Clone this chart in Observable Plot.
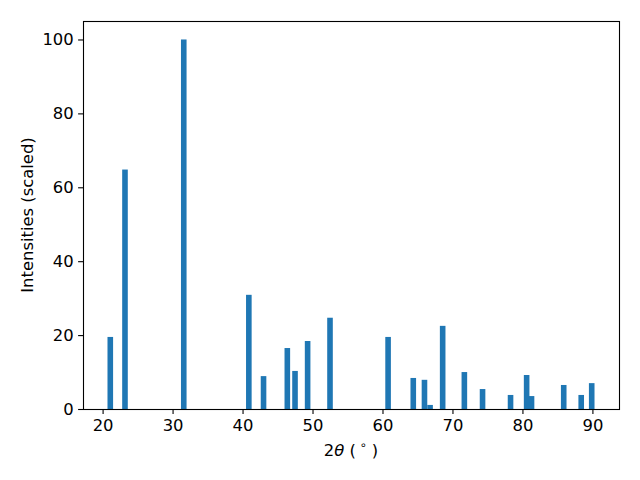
<!DOCTYPE html>
<html>
<head>
<meta charset="utf-8">
<script src="https://cdn.jsdelivr.net/npm/d3@7"></script>
<script src="https://cdn.jsdelivr.net/npm/@observablehq/plot@0.6"></script>
<style>
  html, body { margin: 0; padding: 0; background: white; overflow: hidden; }
</style>
</head>
<body>
<div id="chart"></div>
<script>
const twoTheta = [21.1, 23.2, 31.6, 40.9, 43.0, 46.4, 47.5, 49.3, 52.5, 60.8, 64.4, 66.0, 66.8, 68.6, 71.7, 74.3, 78.3, 80.6, 81.3, 85.9, 88.4, 89.9];
const intensity = [19.5, 64.8, 100, 30.9, 8.9, 16.5, 10.3, 18.4, 24.7, 19.5, 8.4, 7.9, 1.1, 22.5, 10.0, 5.4, 3.8, 9.2, 3.5, 6.5, 3.8, 7.0];
const xTicks = [20, 30, 40, 50, 60, 70, 80, 90];
const yTicks = [0, 20, 40, 60, 80, 100];

const data = twoTheta.map((x, i) => ({x, y: intensity[i]}));
const halfWidth = 0.4;
const FS = 16.4;

const plot = Plot.plot({
  width: 640,
  height: 480,
  marginLeft: 83,
  marginRight: 21,
  marginTop: 21,
  marginBottom: 71,
  style: {fontFamily: "DejaVu Sans", fontSize: FS + "px", color: "black", background: "white"},
  x: {domain: [17.2, 93.8]},
  y: {domain: [0, 105]},
  marks: [
    Plot.rectY(data, {x1: d => d.x - halfWidth, x2: d => d.x + halfWidth, y1: 0, y2: "y", fill: "#1f77b4"}),
    Plot.axisX({ticks: xTicks, tickSize: 4.9, tickPadding: 4.9, strokeWidth: 1.1, label: null, fontSize: FS}),
    Plot.axisY({ticks: yTicks, tickSize: 4.9, tickPadding: 4.9, strokeWidth: 1.1, label: null, fontSize: FS}),
    Plot.frame({stroke: "black", strokeWidth: 1.1})
  ]
});

const svg = d3.select(plot);
const xl = svg.append("text")
  .attr("x", 351).attr("y", 456)
  .attr("text-anchor", "middle")
  .attr("font-family", "DejaVu Sans").attr("font-size", FS + "px").attr("fill", "black");
xl.append("tspan").text("2");
xl.append("tspan").attr("font-style", "italic").text("θ");
xl.append("tspan").text(" (");
xl.append("tspan").attr("font-size", (FS * 0.7) + "px").attr("dy", -7).text(" ∘");
xl.append("tspan").attr("dy", 7).text(" )");

svg.append("text")
  .attr("transform", "translate(33,215) rotate(-90)")
  .attr("text-anchor", "middle")
  .attr("font-family", "DejaVu Sans").attr("font-size", FS + "px").attr("fill", "black")
  .text("Intensities (scaled)");

document.getElementById("chart").appendChild(plot);
</script>
</body>
</html>
